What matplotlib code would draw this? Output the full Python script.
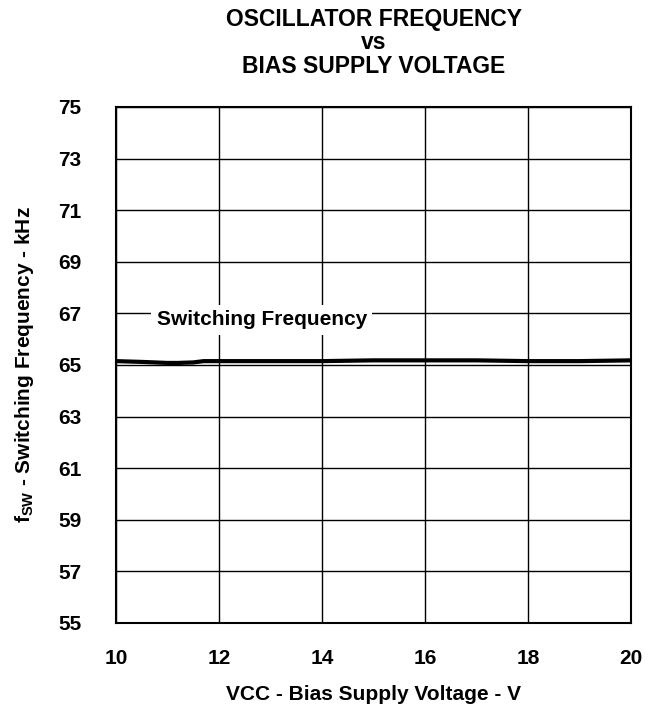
import numpy as np
import matplotlib.pyplot as plt

plt.rcParams["font.family"] = ["Liberation Sans", "DejaVu Sans"]
plt.rcParams["font.weight"] = "bold"

vcc = [10, 10.5, 11, 11.2, 11.5, 11.7, 12, 13, 14, 15, 16, 17, 18, 19, 20]
fsw = [65.15, 65.12, 65.08, 65.08, 65.1, 65.15, 65.15, 65.15, 65.15,
       65.18, 65.18, 65.18, 65.15, 65.15, 65.18]
xticks = [10, 12, 14, 16, 18, 20]
yticks = [55, 57, 59, 61, 63, 65, 67, 69, 71, 73, 75]

fig = plt.figure(figsize=(6.53, 7.08), dpi=100)
ax = fig.add_axes([116 / 653, 1 - 623 / 708, 515 / 653, 516 / 708])

ax.plot(vcc, fsw, color="black", linewidth=3.0, zorder=3)

ax.set_xlim(10, 20)
ax.set_ylim(55, 75)
ax.set_xticks(xticks)
ax.set_yticks(yticks)
ax.grid(True, color="black", linewidth=1.0)
ax.tick_params(length=0, labelsize=15)
ax.tick_params(axis="x", pad=19)
ax.tick_params(axis="y", pad=25)
for lbl in ax.get_xticklabels() + ax.get_yticklabels():
    lbl.set_fontweight("bold")
for s in ax.spines.values():
    s.set_linewidth(1.5)

ax.text(12.83, 66.75, "Switching Frequency", fontsize=15, fontweight="bold",
        ha="center", va="center", zorder=4,
        bbox=dict(facecolor="white", edgecolor="none", pad=4))

ax.set_xlabel("VCC - Bias Supply Voltage - V", fontsize=15,
              fontweight="bold", labelpad=12)
ax.set_ylabel(r"f$_{\mathregular{SW}}$ - Switching Frequency - kHz",
              fontsize=15, fontweight="bold", labelpad=16)
ax.set_title("OSCILLATOR FREQUENCY\nvs\nBIAS SUPPLY VOLTAGE", fontsize=16.5,
             fontweight="bold", pad=24.5, linespacing=1.04)

fig.savefig("out.png", dpi=100)
